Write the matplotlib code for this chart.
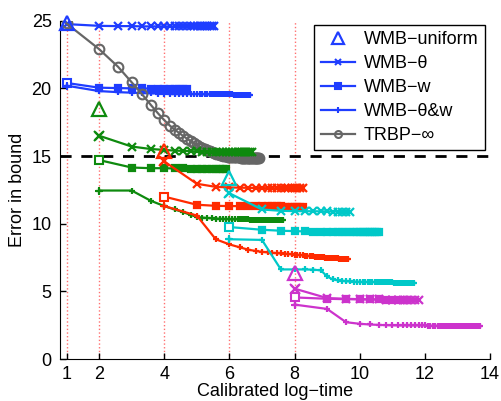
#!/usr/bin/env python3
"""Error in bound against calibrated log-time for the WMB variants and TRBP."""

import numpy as np
import matplotlib
matplotlib.use("Agg")
import matplotlib.pyplot as plt
from matplotlib.lines import Line2D

plt.rcParams['font.family'] = ['Liberation Sans', 'DejaVu Sans']

#--- Data ---
# log-time offset of the k-th iteration from the start of a run
log_steps = [0.00, 1.00, 1.58, 2.00, 2.32, 2.58, 2.81, 3.00, 3.17, 3.32,
             3.46, 3.58, 3.70, 3.81, 3.91, 4.00, 4.09, 4.17, 4.25, 4.32,
             4.39, 4.46, 4.52, 4.58, 4.64, 4.70, 4.75, 4.81, 4.86, 4.91,
             4.95, 5.00, 5.04, 5.09, 5.13, 5.17, 5.21, 5.25, 5.29, 5.32,
             5.36, 5.39, 5.43, 5.46, 5.49, 5.52, 5.56, 5.58, 5.61, 5.64,
             5.67, 5.70, 5.73, 5.75, 5.78, 5.81, 5.83, 5.86, 5.88, 5.91]

start_time = [1, 2, 4, 6, 8]
uniform_err = [24.8, 18.45, 15.35, 13.35, 6.35]

theta_err = [
    [24.75, 24.62, 24.6, 24.6] + [24.58] * 19,
    [16.5, 15.7, 15.52, 15.45, 15.4, 15.38, 15.36, 15.34] + [15.32] * 18,
    [14.6, 12.95, 12.72, 12.68, 12.66, 12.65, 12.64, 12.63] + [12.62] * 11,
    [12.25, 11.05, 10.95, 10.93, 10.92, 10.92, 10.91, 10.91, 10.9, 10.9,
     10.9, 10.9, 10.9],
    [5.2, 4.5, 4.45, 4.42, 4.4, 4.4, 4.38, 4.38, 4.37, 4.37, 4.36, 4.36,
     4.35, 4.35],
]

w_err = [
    [20.4, 20.05, 20.02, 20.0, 20.0, 19.98, 19.98, 19.97, 19.97, 19.96,
     19.96, 19.95, 19.95],
    [14.7, 14.15, 14.1, 14.1, 14.08, 14.08, 14.07, 14.07, 14.06, 14.06,
     14.05, 14.05, 14.05, 14.05, 14.05],
    [12.0, 11.4, 11.32, 11.3, 11.3] + [11.28] * 7 + [11.26] * 7,
    [9.75, 9.55, 9.48, 9.45, 9.43, 9.42, 9.41, 9.4] + [9.39] * 8 + [9.37] * 8,
    [4.55, 4.45, 4.42, 4.41, 4.4, 4.4, 4.39, 4.39, 4.38, 4.38, 4.38],
]

theta_w_err = [
    [20.2, 19.8, 19.72, 19.68, 19.65, 19.63, 19.62, 19.6]
    + [19.58] * 10 + [19.55] * 16 + [19.52] * 16,
    [12.45, 12.45, 11.7, 11.3, 11.05, 10.85, 10.65, 10.5, 10.45, 10.42,
     10.4, 10.38, 10.36, 10.35, 10.34, 10.33]
    + [10.32] * 8 + [10.3] * 8 + [10.27] * 8 + [10.24] * 10,
    [11.3, 10.6, 8.85, 8.47, 8.25, 8.08, 7.98, 7.92, 7.88, 7.85, 7.82, 7.8,
     7.78, 7.76, 7.74, 7.72, 7.7, 7.68, 7.66, 7.64, 7.63, 7.61, 7.6, 7.58,
     7.57, 7.55, 7.54, 7.53, 7.52, 7.51, 7.5, 7.49, 7.48, 7.47, 7.46, 7.45,
     7.44, 7.44, 7.43, 7.43, 7.42, 7.41, 7.4, 7.4, 7.39, 7.39, 7.38, 7.38,
     7.37, 7.37],
    [8.85, 8.8, 6.62, 6.62, 6.62, 6.6, 6.55, 6.1, 5.88, 5.82, 5.78, 5.75,
     5.73, 5.72, 5.71, 5.7] + [5.69] * 8 + [5.67] * 8 + [5.65] * 9 + [5.62] * 10,
    [4.02, 3.7, 2.72, 2.6, 2.55, 2.52, 2.5, 2.49]
    + [2.48] * 8 + [2.46] * 16 + [2.44] * 10 + [2.42] * 10,
]

trbp_err = [24.8, 22.9, 21.6, 20.45, 19.56, 18.8, 18.15, 17.65, 17.25, 16.95,
            16.7, 16.48, 16.28, 16.1, 15.95, 15.82, 15.7, 15.6, 15.5, 15.42,
            15.35, 15.28, 15.22, 15.17, 15.12, 15.08, 15.05, 15.02, 15.0, 14.98,
            14.96, 14.95, 14.94, 14.93, 14.92, 14.92, 14.91, 14.9, 14.9, 14.9,
            14.89, 14.89, 14.89, 14.88, 14.88, 14.88, 14.87, 14.87, 14.87, 14.87,
            14.86, 14.86, 14.86, 14.86, 14.86, 14.85, 14.85, 14.85, 14.85, 14.85]

trbp_level = 15.0
legend_labels = ['WMB\u2212uniform', 'WMB\u2212\u03b8', 'WMB\u2212w',
                 'WMB\u2212\u03b8&w', 'TRBP\u2212\u221e']

#--- Styles ---
run_colors = ['#1f3dff', '#0e8a0e', '#ff2a00', '#00c8c8', '#cc33cc']
gray = '#666666'
lw = 1.6

fig = plt.figure(figsize=(5.02, 4.01), dpi=100)
ax = fig.add_axes([60 / 502, 1 - 359 / 401, 430 / 502, 338.3 / 401])

# Run start markers
for t in start_time:
    ax.axvline(t, color='#ff7070', ls=':', lw=1, zorder=0)
ax.axhline(trbp_level, color='k', ls='--', lw=2, dashes=(4, 3.5), zorder=1)


def draw_run(i):
    c = run_colors[i]
    t0 = start_time[i]
    steps = np.array(log_steps)
    for errs, mk, ms in [(theta_err[i], 'x', 6), (w_err[i], 's', 5),
                         (theta_w_err[i], '+', 5)]:
        x = t0 + steps[:len(errs)]
        ax.plot(x, errs, color=c, lw=lw, marker=mk, ms=ms, mew=1.6, zorder=3)
        ax.plot(x[:1], errs[:1], color=c, ls='none', marker=mk, ms=ms + 1,
                mew=1.5, mfc='white', zorder=3)
    ax.plot([t0], [uniform_err[i]], color=c, ls='none', marker='^', ms=10,
            mew=1.6, mfc='none', zorder=4, clip_on=False)


draw_run(0)
ax.plot(1 + np.array(log_steps[:len(trbp_err)]), trbp_err, color=gray, lw=lw,
        marker='o', ms=7, mew=1.5, mfc='none', zorder=3)
for i in range(1, 5):
    draw_run(i)

ax.set_xlim(0.8, 14)
ax.set_ylim(0, 25)
ax.set_xticks([1, 2, 4, 6, 8, 10, 12, 14])
ax.set_yticks([0, 5, 10, 15, 20, 25])
ax.spines['top'].set_visible(False)
ax.spines['right'].set_visible(False)
ax.tick_params(direction='in', length=4, width=1, labelsize=13)
ax.tick_params(axis='y', pad=6)
ax.tick_params(axis='x', pad=5)
ax.set_xlabel('Calibrated log\u2212time', fontsize=13, labelpad=0)
ax.set_ylabel('Error in bound', fontsize=13, labelpad=4)

# Legend
blue = run_colors[0]
handles = [
    Line2D([], [], color=blue, ls='none', marker='^', ms=8, mew=1.6, mfc='none'),
    Line2D([], [], color=blue, lw=lw, marker='x', ms=5, mew=1.5),
    Line2D([], [], color=blue, lw=lw, marker='s', ms=4, mew=1.5),
    Line2D([], [], color=blue, lw=lw, marker='+', ms=4, mew=1.5),
    Line2D([], [], color=gray, lw=lw, marker='o', ms=5, mew=1.5, mfc='none'),
]
leg = ax.legend(handles, legend_labels, loc='upper right',
                bbox_to_anchor=(0.988, 0.987), borderaxespad=0, fontsize=13,
                fancybox=False, framealpha=1, edgecolor='k', handlelength=1.9,
                handletextpad=0.5, labelspacing=0.38, borderpad=0.35)
leg.get_frame().set_linewidth(1)

fig.savefig('out.png', dpi=100)
